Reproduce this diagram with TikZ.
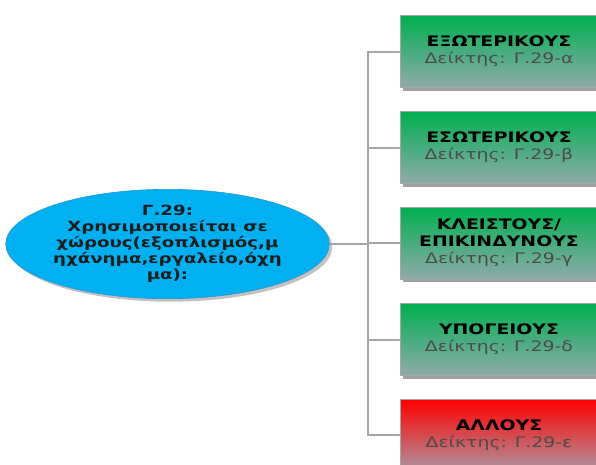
\documentclass[tikz,border=0pt]{standalone}
\usepackage{fontspec}
\setmainfont{DejaVu Sans}[FakeStretch=1.3]
\usetikzlibrary{shadows,shapes.geometric}
\definecolor{gtop}{RGB}{0,176,80}
\definecolor{gbot}{RGB}{143,170,170}
\definecolor{rtop}{RGB}{255,0,0}
\definecolor{rbot}{RGB}{172,148,158}
\definecolor{ellfill}{RGB}{0,176,240}
\definecolor{elldraw}{RGB}{40,150,210}
\definecolor{conn}{RGB}{166,166,166}
\definecolor{subgray}{RGB}{75,75,75}
\definecolor{elltext}{RGB}{30,30,30}
\begin{document}
\begin{tikzpicture}[x=1pt,y=-1pt,
  box/.style={rectangle, minimum width=198pt, minimum height=72pt, draw=gray!70, line width=0.5pt,
    top color=gtop, bottom color=gbot,
    drop shadow={shadow xshift=3pt,shadow yshift=-3pt,opacity=0.5,fill=black!75},
    align=center, font=\fontsize{14.5}{17}\selectfont, text=black, inner sep=2pt},
  redbox/.style={box, top color=rtop, bottom color=rbot},
  link/.style={draw=conn, line width=2pt},
  ell/.style={ellipse, minimum width=321pt, minimum height=108pt, inner sep=0pt,
    fill=ellfill, draw=elldraw, line width=0.6pt,
    drop shadow={shadow xshift=3pt,shadow yshift=-3pt,opacity=0.35,fill=black!70},
    align=center, font=\bfseries\fontsize{14}{16}\selectfont, text=elltext}
]
\useasboundingbox (0,0) rectangle (596,464);
\node[ell] (e) at (167.5,244) {Γ.29:\\Χρησιμοποιείται σε\\χώρους(εξοπλισμός,μ\\ηχάνημα,εργαλείο,όχη\\μα):};
\node[box] (b1) at (499,51.5) {\textbf{ΕΞΩΤΕΡΙΚΟΥΣ}\\{\color{subgray}Δείκτης: Γ.29-α}};
\node[box] (b2) at (499,147.5) {\textbf{ΕΣΩΤΕΡΙΚΟΥΣ}\\{\color{subgray}Δείκτης: Γ.29-β}};
\node[box] (b3) at (499,243) {\textbf{ΚΛΕΙΣΤΟΥΣ/}\\\textbf{ΕΠΙΚΙΝΔΥΝΟΥΣ}\\{\color{subgray}Δείκτης: Γ.29-γ}};
\node[box] (b4) at (499,339.5) {\textbf{ΥΠΟΓΕΙΟΥΣ}\\{\color{subgray}Δείκτης: Γ.29-δ}};
\node[redbox] (b5) at (499,435) {\textbf{ΑΛΛΟΥΣ}\\{\color{subgray}Δείκτης: Γ.29-ε}};
\coordinate (bus) at (368,244);
\draw[link] (e.east) -- (bus);
\draw[link] (b1.west) -- (b1.west -| bus) -- (b5.west -| bus) -- (b5.west);
\draw[link] (b2.west) -- (b2.west -| bus);
\draw[link] (b3.west) -- (b3.west -| bus);
\draw[link] (b4.west) -- (b4.west -| bus);
\end{tikzpicture}
\end{document}
